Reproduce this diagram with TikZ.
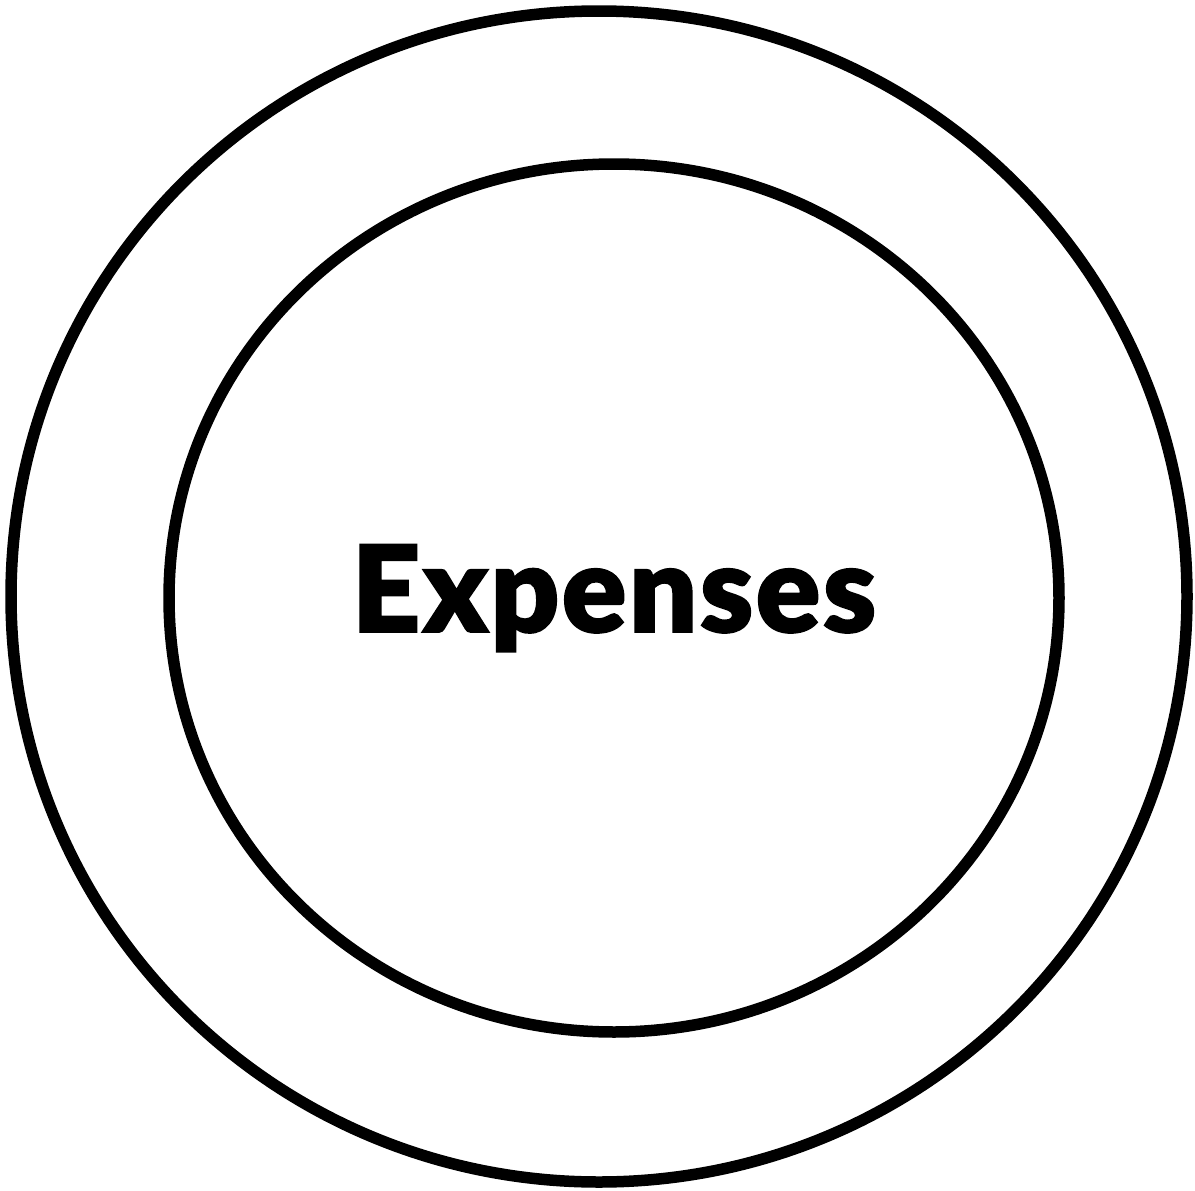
\documentclass[tikz,border=0pt]{standalone}
\usepackage{fontspec}
\newfontfamily\labelfont[FakeBold=1.5,LetterSpace=2]{Lato Black}
\tikzset{ring/.style={draw=black, line width=11.5pt}}
\begin{document}
\begin{tikzpicture}[x=1pt,y=-1pt]
\useasboundingbox (0,0) rectangle (1195,1191);
\draw[ring] (599,596.5) ellipse [x radius=588, y radius=585.5];
\draw[ring] (614,598) ellipse [x radius=445, y radius=434];
\node[inner sep=0pt, anchor=base] (label) at (614,632) {\labelfont\fontsize{120}{120}\selectfont Expenses};
\end{tikzpicture}
\end{document}
